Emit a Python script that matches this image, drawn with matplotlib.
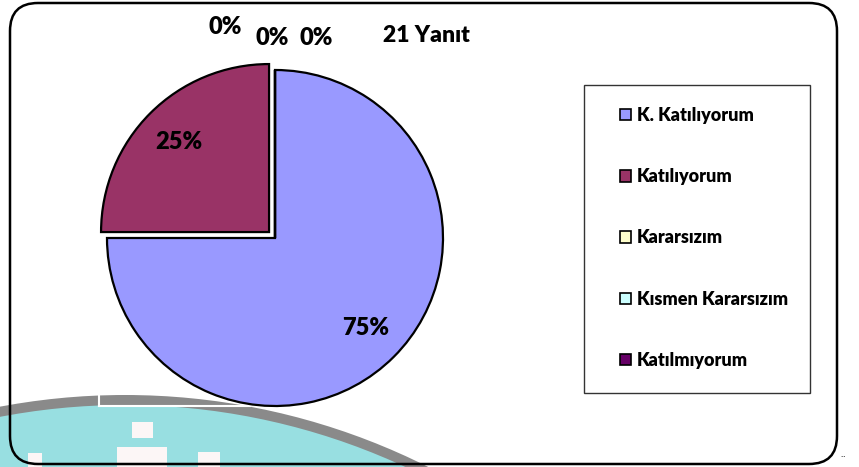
import matplotlib
matplotlib.use("Agg")
import matplotlib.pyplot as plt
from matplotlib.patches import Patch, Circle, Rectangle, FancyBboxPatch

plt.rcParams['font.family'] = ['Lato', 'DejaVu Sans']

categories = ["K. Katılıyorum", "Katılıyorum", "Kararsızım", "Kısmen Kararsızım", "Katılmıyorum"]
values = [75, 25, 0, 0, 0]
colors = ["#9999FF", "#993366", "#FFFFCC", "#CCFFFF", "#660066"]
explode = [0, 0.05, 0, 0, 0]
title_text = "21 Yanıt"

W, H = 859, 467
fig = plt.figure(figsize=(W / 100, H / 100), dpi=100)
WEIGHT = "heavy"

# background axes in pixel coordinates
bg = fig.add_axes([0, 0, 1, 1], zorder=0)
bg.set_xlim(0, W)
bg.set_ylim(H, 0)
bg.axis('off')

# watermark (decorative, partially visible at bottom)
bg.add_patch(Circle((125, 1070), 675, facecolor="#8A8A8A", edgecolor="none"))
bg.add_patch(Circle((125, 1070), 665, facecolor="#98DFE1", edgecolor="none"))
for (x, y, w, h) in [(132, 422, 21, 16), (117, 447, 50, 20), (198, 452, 22, 15), (28, 453, 14, 14)]:
    bg.add_patch(Rectangle((x, y), w, h, facecolor="#FCF6F6", edgecolor="none"))
bg.plot([99, 250], [406, 406], color="white", lw=1.5)
bg.plot([99, 99], [394, 406], color="white", lw=1.5)

# rounded frame
rad = 28
x0, y0, x1, y1 = 10, 3, 837, 464
bg.add_patch(FancyBboxPatch((x0 + rad, y0 + rad), (x1 - x0) - 2 * rad, (y1 - y0) - 2 * rad,
                            boxstyle=f"round,pad={rad}", facecolor="none",
                            edgecolor="black", lw=1.8))
bg.text(843, 461, "¨", fontsize=8, ha="center", va="center")

# legend box
bg.add_patch(Rectangle((584, 85), 226, 308, facecolor="white", edgecolor="#333333", lw=1.0))

# pie axes: center (275, 238), radius 168
cx, cy, r = 275, 238, 168
ax = fig.add_axes([(cx - r) / W, 1 - (cy + r) / H, 2 * r / W, 2 * r / H], zorder=1)
ax.patch.set_alpha(0)

def fmt(p):
    return f"{p:.0f}%" if p > 0.5 else ""

wedges, texts, autotexts = ax.pie(values, colors=colors, explode=explode,
                                  startangle=90, counterclock=False,
                                  autopct=fmt, pctdistance=0.76,
                                  wedgeprops=dict(edgecolor="black", linewidth=1.6),
                                  textprops=dict(fontsize=17, fontweight=WEIGHT, color="black"))
for w in wedges:
    w.set_clip_on(False)
ax.set_xlim(-1, 1)
ax.set_ylim(-1, 1)
ax.set_aspect('equal')
ax.axis('off')

# labels for the zero-size slices near the top
zero_pos = [(225, 27), (272, 38), (316, 38)]
zero_vals = [v for v in values if v == 0]
for (x, y), v in zip(zero_pos, zero_vals):
    bg.text(x, y, f"{v}%", fontsize=17, fontweight=WEIGHT, ha="center", va="center", zorder=3)

bg.text(426, 36, title_text, fontsize=16.5, fontweight=WEIGHT, ha="center", va="center")

# legend
handles = [Patch(facecolor=c, edgecolor="black", linewidth=1.2) for c in colors]
leg = fig.legend(handles, categories, loc="upper left",
                 bbox_to_anchor=(620 / W, 1 - 107 / H), frameon=False,
                 labelspacing=2.45, handlelength=0.62, handleheight=0.62,
                 handletextpad=0.3, borderpad=0, borderaxespad=0,
                 prop=dict(weight=WEIGHT, size=13))

fig.savefig("out.png", dpi=100)
